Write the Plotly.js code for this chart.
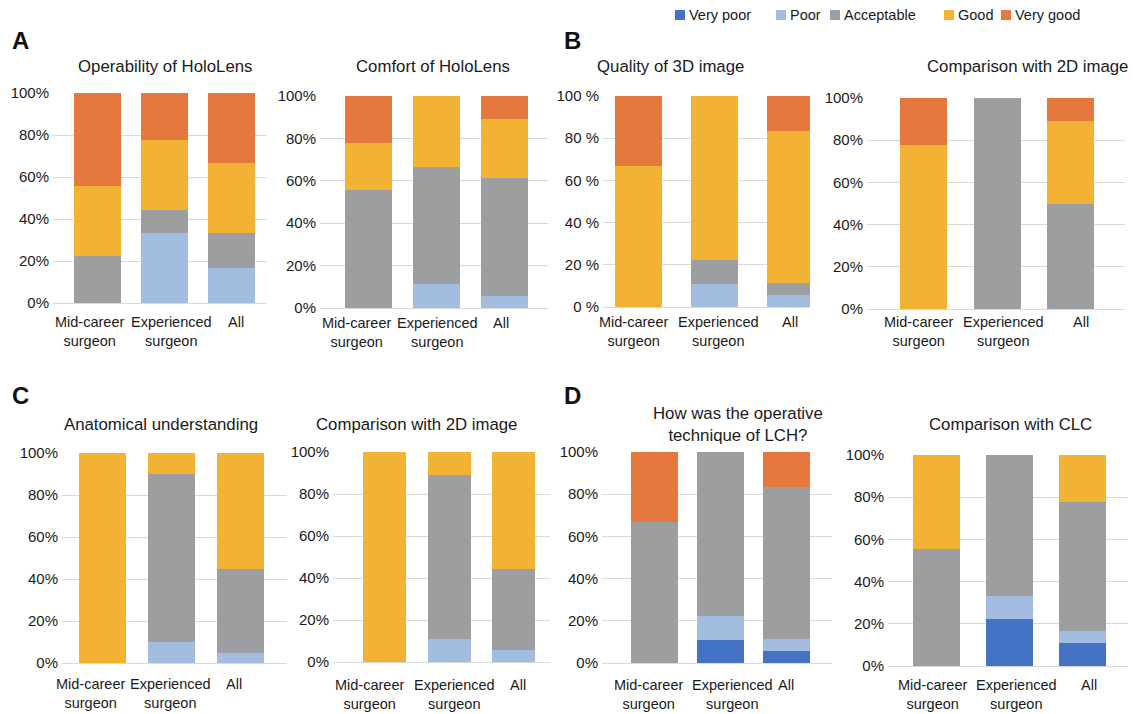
<!DOCTYPE html>
<html>
<head>
<meta charset="utf-8">
<script src="https://cdn.plot.ly/plotly-3.0.1.min.js"></script>
<style>html,body{margin:0;padding:0;background:#fff;}#chart{width:1134px;height:714px;}</style>
</head>
<body>
<div id="chart"></div>
<script>
// ---------- DATA ----------
const categories = ["Mid-career<br>surgeon", "Experienced<br>surgeon", "All"];
const levels = ["Very poor", "Poor", "Acceptable", "Good", "Very good"];
const levelColors = ["#4472C4", "#A2BDE0", "#9D9EA0", "#F2B233", "#E5793D"];

// each list: [Very poor, Poor, Acceptable, Good, Very good] per category (Mid, Exp, All), %
const operability   = [[0,0,0],[0,33.3,16.7],[22.2,11.1,16.7],[33.3,33.3,33.3],[44.5,22.3,33.3]];
const comfort       = [[0,0,0],[0,11.1,5.6],[55.6,55.6,55.6],[22.2,33.3,27.8],[22.2,0,11.0]];
const quality3D     = [[0,0,0],[0,11.1,5.6],[0,11.1,5.6],[66.7,77.8,72.2],[33.3,0,16.6]];
const compare2D_B   = [[0,0,0],[0,0,0],[0,100,50],[77.8,0,38.9],[22.2,0,11.1]];
const anatomical    = [[0,0,0],[0,10,5],[0,80,40],[100,10,55],[0,0,0]];
const compare2D_C   = [[0,0,0],[0,11.1,5.6],[0,77.8,38.9],[100,11.1,55.5],[0,0,0]];
const technique     = [[0,11.1,5.6],[0,11.1,5.6],[66.7,77.8,72.2],[0,0,0],[33.3,0,16.6]];
const compareCLC    = [[0,22.2,11.1],[0,11.1,5.6],[55.6,66.7,61.1],[44.4,0,22.2],[0,0,0]];

const titles = ["Operability of HoloLens", "Comfort of HoloLens", "Quality of 3D image",
  "Comparison with 2D image", "Anatomical understanding", "Comparison with 2D image",
  "How was the operative<br>technique of LCH?", "Comparison with CLC"];
const panelLetters = ["A", "B", "C", "D"];
const yTickVals = [0, 20, 40, 60, 80, 100];

// ---------- LAYOUT GEOMETRY (pixels) ----------
const W = 1134, H = 714;
const panelData = [operability, comfort, quality3D, compare2D_B, anatomical, compare2D_C, technique, compareCLC];
// ly = vertical centre of the first label line
const geom = [
  {L:53,  R:267,  c0:97.5,  c2:231,    top:93,  bot:303, bw:47, suf:"%",  tx:165,  ty:66,  lx:[89.5,171,235.5],   ly:322},
  {L:320, R:548,  c0:368.5, c2:504.5,  top:96,  bot:308, bw:47, suf:"%",  tx:433,  ty:66,  lx:[356,437,501],      ly:322.5},
  {L:603, R:810,  c0:638.5, c2:790.5,  top:96,  bot:307, bw:47, suf:" %", tx:670,  ty:66,  lx:[633.5,718,790],    ly:321.5},
  {L:867, R:1125, c0:923.5, c2:1070.5, top:98,  bot:309, bw:47, suf:"%",  tx:1027, ty:66,  lx:[918.5,1003.5,1081], ly:321.5},
  {L:62,  R:287,  c0:102,   c2:240.5,  top:453, bot:663, bw:47, suf:"%",  tx:161,  ty:424, lx:[90.5,170,234],     ly:684},
  {L:333, R:550,  c0:384.5, c2:513.5,  top:452, bot:662, bw:43, suf:"%",  tx:416,  ty:424, lx:[369.5,454.5,517.5], ly:685},
  {L:602, R:832,  c0:654,   c2:786.5,  top:452, bot:663, bw:47, suf:"%",  tx:738,  ty:424, lx:[648,732,785.5],    ly:685},
  {L:888, R:1128, c0:936.5, c2:1082.5, top:455, bot:666, bw:47, suf:"%",  tx:1010, ty:424, lx:[932.5,1016,1088.5], ly:685}
];
const letterPos = [{x:10,y:40},{x:562,y:40},{x:10,y:395},{x:562,y:395}];
const legendPos = [675, 776, 830, 944, 1001]; // marker left x of each legend entry
const legendY = 15;

const FONT = "Liberation Sans, Arial, sans-serif";
const TXT = "#1a1a1a";

const traces = [];
const layout = {
  width: W, height: H,
  margin: {l:0, r:0, t:0, b:0},
  paper_bgcolor: "#fff", plot_bgcolor: "rgba(0,0,0,0)",
  barmode: "stack",
  font: {family: FONT, size: 14, color: TXT},
  showlegend: false,
  annotations: [],
  shapes: [],
  bargap: 0
};

geom.forEach((g, p) => {
  const idx = p === 0 ? "" : String(p + 1);
  const s = (g.c2 - g.c0) / 2;
  const xr = [(g.L - g.c0) / s, 2 + (g.R - g.c2) / s];
  layout["xaxis" + idx] = {
    domain: [g.L / W, g.R / W], range: xr, type: "category",
    anchor: "y" + idx, showgrid: false, zeroline: false, showline: false,
    ticks: "", showticklabels: false, automargin: false, fixedrange: true
  };
  layout["yaxis" + idx] = {
    domain: [1 - g.bot / H, 1 - g.top / H], range: [0, 100],
    anchor: "x" + idx, tickmode: "array", tickvals: yTickVals,
    ticktext: yTickVals.map(v => v + g.suf),
    showgrid: true, gridcolor: "#D9D9D9", gridwidth: 1,
    zeroline: true, zerolinecolor: "#D9D9D9", zerolinewidth: 1,
    showline: false, ticks: "", automargin: false, ticklabelstandoff: 3,
    tickfont: {family: FONT, size: 15, color: TXT}, fixedrange: true
  };
  const data = panelData[p];
  levels.forEach((lv, k) => {
    traces.push({
      type: "bar", name: lv, x: categories, y: data[k],
      xaxis: "x" + idx, yaxis: "y" + idx,
      width: g.bw / s,
      marker: {color: levelColors[k], line: {width: 0}},
      showlegend: false, hoverinfo: "skip"
    });
  });
  // category labels (placed like the original's axis labels, top-aligned)
  categories.forEach((c, i) => {
    layout.annotations.push({
      xref: "paper", yref: "paper", x: g.lx[i] / W, y: 1 - (g.ly - 10) / H,
      xanchor: "center", yanchor: "top", showarrow: false, align: "center",
      text: c, font: {family: FONT, size: 14.5, color: TXT}
    });
  });
  layout.annotations.push({
    xref: "paper", yref: "paper", x: g.tx / W, y: 1 - g.ty / H,
    xanchor: "center", yanchor: "middle", showarrow: false,
    text: titles[p], font: {family: FONT, size: 16.8, color: TXT}
  });
});

letterPos.forEach((lp, i) => {
  layout.annotations.push({
    xref: "paper", yref: "paper", x: lp.x / W, y: 1 - lp.y / H,
    xanchor: "left", yanchor: "middle", showarrow: false,
    text: "<b>" + panelLetters[i] + "</b>", font: {family: FONT, size: 24, color: "#111"}
  });
});

// manual legend
levels.forEach((lv, k) => {
  const x0 = legendPos[k];
  layout.shapes.push({
    type: "rect", xref: "paper", yref: "paper",
    x0: x0 / W, x1: (x0 + 10) / W, y0: 1 - (legendY + 5) / H, y1: 1 - (legendY - 5) / H,
    fillcolor: levelColors[k], line: {width: 0}
  });
  layout.annotations.push({
    xref: "paper", yref: "paper", x: (x0 + 12) / W, y: 1 - legendY / H,
    xanchor: "left", yanchor: "middle", showarrow: false,
    text: lv, font: {family: FONT, size: 14.5, color: TXT}
  });
});

Plotly.newPlot("chart", traces, layout, {displayModeBar: false, staticPlot: true});
</script>
</body>
</html>
